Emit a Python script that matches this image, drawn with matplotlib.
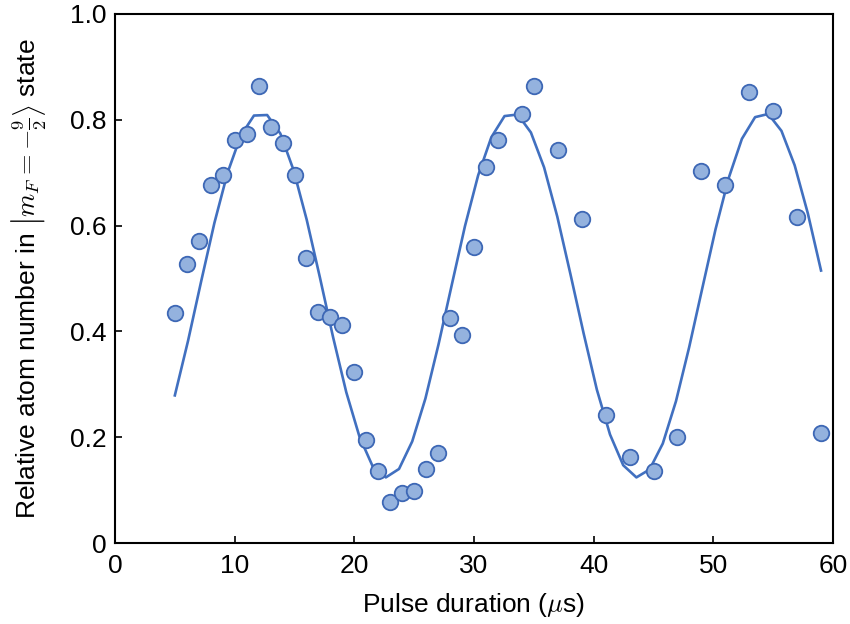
import numpy as np
import matplotlib.pyplot as plt

plt.rcParams['font.family'] = ['Liberation Sans', 'DejaVu Sans']
plt.rcParams['mathtext.fontset'] = 'cm'

# measured points (pulse duration in us, relative atom number)
t_data = [5, 6, 7, 8, 9, 10, 11, 12, 13, 14, 15, 16, 17, 18, 19, 20, 21, 22,
          23, 24, 25, 26, 27, 28, 29, 30, 31, 32, 34, 35, 37, 39, 41, 43, 45,
          47, 49, 51, 53, 55, 57, 59]
n_data = [0.435, 0.527, 0.570, 0.677, 0.696, 0.762, 0.773, 0.864, 0.786, 0.756,
          0.696, 0.539, 0.436, 0.428, 0.413, 0.323, 0.195, 0.137, 0.078, 0.095,
          0.098, 0.140, 0.171, 0.426, 0.393, 0.560, 0.711, 0.762, 0.810, 0.864,
          0.742, 0.612, 0.242, 0.163, 0.136, 0.201, 0.703, 0.677, 0.853, 0.817,
          0.616, 0.207]

# fitted curve, 50 samples between 5 and 59 us
t_fit = np.linspace(5, 59, 50)
n_fit = [0.279, 0.382, 0.495, 0.605, 0.700, 0.770, 0.808, 0.809, 0.774, 0.705,
         0.611, 0.502, 0.389, 0.285, 0.201, 0.145, 0.124, 0.140, 0.192, 0.273,
         0.376, 0.488, 0.599, 0.695, 0.767, 0.807, 0.810, 0.776, 0.710, 0.617,
         0.508, 0.396, 0.290, 0.205, 0.147, 0.124, 0.139, 0.188, 0.268, 0.370,
         0.482, 0.593, 0.690, 0.764, 0.805, 0.811, 0.779, 0.714, 0.623, 0.515]

fig = plt.figure(figsize=(8.5, 6.24), dpi=100)
ax = fig.add_axes([0.1353, 0.1298, 0.8447, 0.8478])

ax.plot(t_fit, n_fit, color='#4170C0', lw=1.9, zorder=2)
ax.scatter(t_data, n_data, s=125, facecolor='#94B2DE', edgecolor='#3D67B5',
           linewidth=1.3, zorder=3)

ax.set_xlim(0, 60)
ax.set_ylim(0, 1.0)
ax.set_xticks([0, 10, 20, 30, 40, 50, 60])
ax.set_yticks([0, 0.2, 0.4, 0.6, 0.8, 1.0])
ax.set_yticklabels(['0', '0.2', '0.4', '0.6', '0.8', '1.0'])
ax.tick_params(direction='in', length=5, width=1.2, labelsize=19, pad=6)
ax.tick_params(axis='x', pad=8)
for s in ax.spines.values():
    s.set_linewidth(1.5)

ax.set_xlabel(r'Pulse duration ($\mu$s)', fontsize=19, labelpad=9)
ax.set_ylabel(r'Relative atom number in $\left|m_F=-\frac{9}{2}\right\rangle$ state',
              fontsize=19, labelpad=16)

fig.savefig('out.png', dpi=100)
